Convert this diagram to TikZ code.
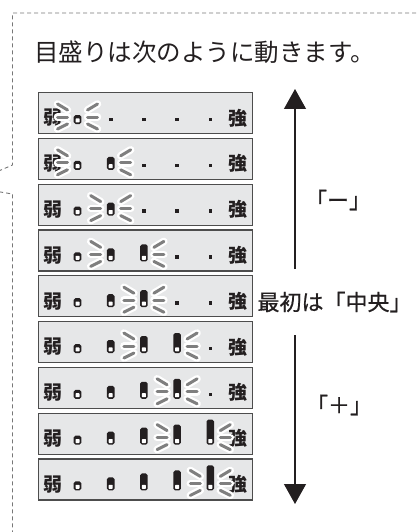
\documentclass[tikz,border=0pt]{standalone}
\usepackage{fontspec}
\setmainfont{Noto Sans CJK JP}
\newfontfamily\keyfont{Noto Sans CJK JP}[FakeBold=0.7]
\usepackage{xcolor}
\usetikzlibrary{arrows.meta}
\definecolor{uBar}{HTML}{E6E7E8}
\definecolor{uEdge}{HTML}{4D4D4D}
\definecolor{uInk}{HTML}{231F20}
\definecolor{uRay}{HTML}{7F7F7F}
\definecolor{uFrame}{HTML}{777777}
\tikzset{
  bar/.style={draw=uEdge, line width=1.1pt, fill=uBar, minimum width=214.5pt,
              minimum height=41pt, inner sep=0pt},
  endlbl/.style={font=\fontsize{19}{19}\selectfont\bfseries, text=uInk, inner sep=0pt},
  keylbl/.style={font=\fontsize{22}{22}\selectfont\keyfont, text=uInk, inner sep=0pt},
  headline/.style={font=\fontsize{24.5}{24.5}\selectfont, text=uInk, inner sep=0pt},
  seg/.style={fill=uInk, rounded corners=1.8pt},
  pip/.style={fill=white, rounded corners=0.6pt},
  dot/.style={fill=uInk},
  % blinking rays: grey stroke on a white halo
  ray/.style={draw=uRay, line width=3pt, line cap=round,
              preaction={draw=white, line width=7.5pt, line cap=round}},
  flow/.style={-{Triangle[width=22pt, length=20pt]}, line width=1.2pt, draw=uInk},
  frame/.style={draw=uFrame, line width=0.9pt, dash pattern=on 4pt off 3pt},
}
\newcommand{\raygrp}[3]{% x, y, side (-1 left, 1 right)
  \foreach \dy/\ey in {-13/-7, 0/0, 12/7}
    \draw[ray] ({#1+(#3)*20}, {#2+\dy}) -- ({#1+(#3)*10}, {#2+\ey});
}

\begin{document}
\begin{tikzpicture}[x=1pt, y=-1pt]
\useasboundingbox (0,0) rectangle (419,532);

%% ── the dashed callout frame ─────────────────────────────────────────────
\begin{scope}
  \clip (0,0) rectangle (419,532);
  \draw[frame] (430,13) -- (12.5,13) -- (12.5,165) -- (-36,186) -- (12.5,194)
               -- (12.5,545);
\end{scope}

\node[headline, anchor=west] (head) at (34,52) {目盛りは次のように動きます。};

%% ── the nine steps of the scale ──────────────────────────────────────────
\foreach \i in {1,...,9} {
  \pgfmathsetmacro{\rowtop}{92+45.8*(\i-1)}
  \pgfmathsetmacro{\rowbot}{\rowtop+32}
  \pgfmathtruncatemacro{\lit}{floor(\i/2)+1}
  \pgfmathtruncatemacro{\rayl}{floor((\i+1)/2)}
  \node[bar, anchor=north west] (bar\i) at (37.5,\rowtop) {};
  \node[endlbl] (weak\i) at (52.5,{\rowtop+26}) {弱};
  \node[endlbl] (strong\i) at (237.5,{\rowtop+26}) {強};
  \foreach \k in {1,...,5} {
    \pgfmathsetmacro{\cx}{77.5+33.2*(\k-1)}
    \pgfmathsetmacro{\h}{{9,13,17,20,25}[\k-1]}
    \ifnum\k>\lit
      \fill[dot] ({\cx-1.8},{\rowtop+25.7}) rectangle ({\cx+1.8},{\rowtop+29.3});
    \else
      \fill[seg] ({\cx-3.8},\rowbot) rectangle ({\cx+3.8},{\rowbot-\h});
      \fill[pip] ({\cx-2},{\rowbot-1.6}) rectangle ({\cx+2},{\rowbot-5.6});
    \fi
  }
  \pgfmathsetmacro{\xl}{77.5+33.2*(\rayl-1)}
  \pgfmathsetmacro{\xr}{77.5+33.2*(\lit-1)}
  \raygrp{\xl}{\rowtop+25}{-1}
  \raygrp{\xr}{\rowtop+25}{1}
}

%% ── direction of the keys ────────────────────────────────────────────────
\node[keylbl] (minus) at (338,200) {「ー」};
\node[keylbl] (start) at (334.5,302) {最初は「中央」};
\node[keylbl] (plus) at (339,405) {「＋」};
\coordinate (uptip) at (295,89);
\coordinate (upfoot) at (295,269);
\coordinate (dnfoot) at (295,335);
\coordinate (dntip) at (295,504);
\draw[flow] (upfoot) -- (uptip);
\draw[flow] (dnfoot) -- (dntip);

\end{tikzpicture}
\end{document}
